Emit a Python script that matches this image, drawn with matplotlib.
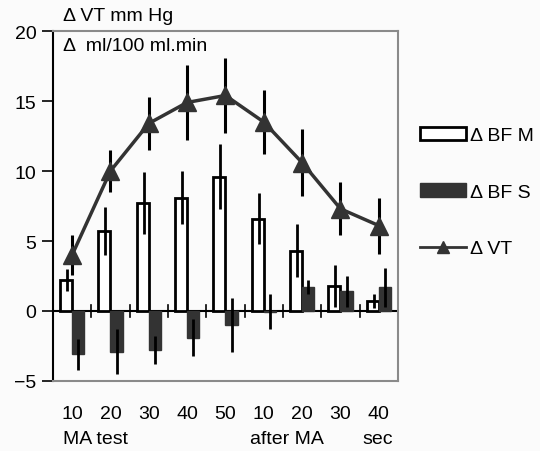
import numpy as np
import matplotlib.pyplot as plt
from matplotlib.patches import Patch
from matplotlib.lines import Line2D

plt.rcParams['font.family'] = ['Liberation Sans', 'DejaVu Sans']

# ---- data ----
tick_labels = ['10', '20', '30', '40', '50', '10', '20', '30', '40']
bf_m = [2.2, 5.7, 7.7, 8.1, 9.6, 6.6, 4.3, 1.8, 0.7]
bf_m_err = [0.8, 1.7, 2.2, 1.9, 2.3, 1.8, 1.9, 1.5, 0.5]
bf_s = [-3.1, -2.9, -2.8, -1.9, -1.0, -0.05, 1.7, 1.4, 1.7]
bf_s_err = [1.1, 1.6, 1.0, 1.3, 1.9, 1.25, 0.5, 1.1, 1.4]
vt = [4.0, 10.0, 13.4, 14.9, 15.4, 13.5, 10.6, 7.3, 6.1]
vt_err = [1.4, 1.5, 1.9, 2.7, 2.7, 2.3, 2.4, 1.9, 2.0]

x = np.arange(len(tick_labels))
w = 0.32
dark = '#333333'
fs = 14

fig = plt.figure(figsize=(5.4, 4.52), dpi=100, facecolor='#fbfbfb')
ax = fig.add_axes([0.098, 0.155, 0.639, 0.774])
ax.set_facecolor('#fbfbfb')

ax.bar(x - w / 2, bf_m, w, color='white', edgecolor='black', linewidth=2, zorder=2)
ax.errorbar(x - w / 2 + 0.03, bf_m, yerr=bf_m_err, fmt='none', ecolor='black', elinewidth=2, capsize=0, zorder=3)
ax.bar(x + w / 2, bf_s, w, color=dark, edgecolor=dark, linewidth=1, zorder=2)
ax.errorbar(x + w / 2, bf_s, yerr=bf_s_err, fmt='none', ecolor='black', elinewidth=2, capsize=0, zorder=3)

ax.errorbar(x, vt, yerr=vt_err, fmt='none', ecolor='black', elinewidth=2.2, capsize=0, zorder=4)
ax.plot(x, vt, color=dark, lw=2.5, marker='^', markersize=13, markerfacecolor=dark,
        markeredgecolor=dark, zorder=5)

# zero line with crossing ticks at group boundaries
ax.axhline(0, color='black', lw=1.5, zorder=1)
for b in np.arange(0.5, 8.6, 1):
    ax.plot([b, b], [-0.4, 0.4], color='black', lw=1.2, zorder=1)

ax.set_xlim(-0.5, 8.5)
ax.set_ylim(-5, 20)
ax.set_yticks([-5, 0, 5, 10, 15, 20])
ax.tick_params(axis='y', direction='out', length=8, width=1.2, labelsize=fs, pad=4)
ax.set_xticks(x)
ax.set_xticklabels(tick_labels, fontsize=fs)
ax.tick_params(axis='x', length=0, pad=17)

ax.spines['left'].set_color('black')
ax.spines['left'].set_linewidth(1.5)
for s in ['top', 'right', 'bottom']:
    ax.spines[s].set_color('#8a8a8a')
    ax.spines[s].set_linewidth(1.5)

fig.text(0.117, 0.963, '\u0394 VT mm Hg', fontsize=fs, va='center')
fig.text(0.117, 0.897, '\u0394  ml/100 ml.min', fontsize=fs, va='center')

fig.text(0.117, 0.027, 'MA test', fontsize=fs, va='center')
fig.text(0.463, 0.027, 'after MA', fontsize=fs, va='center')
fig.text(0.672, 0.027, 'sec', fontsize=fs, va='center')

handles = [Patch(facecolor='white', edgecolor='black', linewidth=2),
           Patch(facecolor=dark, edgecolor=dark),
           Line2D([0], [0], color=dark, lw=2, marker='^', markersize=9,
                  markerfacecolor=dark, markeredgecolor=dark)]
ax.legend(handles, ['\u0394 BF M', '\u0394 BF S', '\u0394 VT'], loc='center left',
          bbox_to_anchor=(1.04, 0.54), frameon=False, fontsize=fs, labelspacing=2.0,
          handlelength=2.4, handletextpad=0.2, borderaxespad=0)

fig.savefig('out.png', dpi=100, facecolor=fig.get_facecolor())
